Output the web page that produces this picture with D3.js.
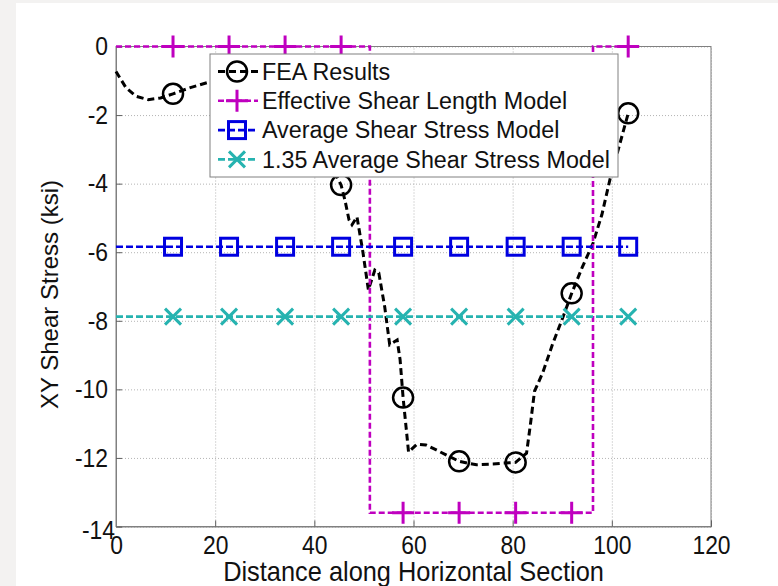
<!DOCTYPE html>
<html>
<head>
<meta charset="utf-8">
<script src="https://cdn.jsdelivr.net/npm/d3@7"></script>
<style>
  body { margin: 0; background: #fff; }
  svg { display: block; font-family: 'Liberation Sans', Arial, sans-serif; }
</style>
</head>
<body>
<svg id="chart" width="778" height="586"></svg>
<script>
// values
const xTicks = [0, 20, 40, 60, 80, 100, 120];
const yTicks = [0, -2, -4, -6, -8, -10, -12, -14];

const markerX = [11.5, 22.8, 34.1, 45.4, 57.9, 69.2, 80.6, 91.9, 103.3];

const feaX = [0, 2, 4, 6.5, 9, 11.5, 15, 18.5, 22.8, 28, 34.1, 39, 42.5, 45.4, 46.2, 47.0, 47.6, 48.6,
  49.8, 50.9, 52.2, 53.0, 54.2, 55.2, 56.7, 57.3, 57.9, 58.5, 59.0, 60.7, 62.5, 64.5, 66.7, 69.2,
  72.7, 76, 78.1, 80.6, 82.8, 83.6, 84.4, 86.1, 88, 90, 91.9, 94, 96.2, 98, 99.6, 101.5, 103.3];
const feaY = [-0.73, -1.2, -1.45, -1.55, -1.5, -1.38, -1.2, -1.05, -1.0, -1.2, -1.6, -2.4, -3.2, -4.04, -4.5, -5.06, -5.2, -4.97,
  -6.0, -7.1, -6.52, -6.6, -7.6, -8.7, -8.56, -9.14, -10.24, -11.1, -11.83, -11.6, -11.62, -11.76, -11.92, -12.1,
  -12.2, -12.18, -12.15, -12.13, -11.86, -11.0, -10.06, -9.5, -8.7, -7.95, -7.2, -6.45, -5.74, -4.9, -3.89, -2.9, -1.95];
const feaMarkY = [-1.38, -1.0, -1.6, -4.04, -10.24, -12.1, -12.13, -7.2, -1.95];

const eslX = [0, 11.5, 22.8, 34.1, 45.4, 51.2, 51.2, 57.9, 69.2, 80.6, 91.9, 96.2, 96.2, 103.3];
const eslY = [0, 0, 0, 0, 0, 0, -13.6, -13.6, -13.6, -13.6, -13.6, -13.6, 0, 0];
const eslMarkY = [0, 0, 0, 0, -13.6, -13.6, -13.6, -13.6, 0];

const avgStress = -5.84;
const avg135Stress = -7.88;

const seriesNames = ['FEA Results', 'Effective Shear Length Model', 'Average Shear Stress Model', '1.35 Average Shear Stress Model'];
const seriesColors = ['#000000', '#bf00bf', '#0000e0', '#26b3b0'];
const seriesShapes = ['circle', 'plus', 'square', 'cross'];

const svg = d3.select('#chart');
const margin = { top: 46.5, left: 116 };
const width = 595;
const height = 480;
const squeeze = 0.88; // MATLAB fonts look narrow in the screenshot

// grey page edge like the screenshot
svg.append('rect').attr('width', 778).attr('height', 586).attr('fill', '#fff');
svg.append('rect').attr('width', 16).attr('height', 586).attr('fill', '#f3f2f1');
svg.append('rect').attr('width', 778).attr('height', 3).attr('fill', '#f3f2f1');

const g = svg.append('g').attr('transform', `translate(${margin.left},${margin.top})`);

const x = d3.scaleLinear().domain([0, 120]).range([0, width]);
const y = d3.scaleLinear().domain([-14, 0]).range([height, 0]);

// dotted grid
g.append('g')
  .attr('transform', `translate(0,${height})`)
  .call(d3.axisBottom(x).tickValues(xTicks).tickSize(-height).tickFormat(''))
  .call((s) => s.select('.domain').remove())
  .selectAll('line')
  .attr('stroke', '#b4b4b4')
  .attr('stroke-dasharray', '1,2');
g.append('g')
  .call(d3.axisLeft(y).tickValues(yTicks).tickSize(-width).tickFormat(''))
  .call((s) => s.select('.domain').remove())
  .selectAll('line')
  .attr('stroke', '#b4b4b4')
  .attr('stroke-dasharray', '1,2');

// box
g.append('rect')
  .attr('width', width)
  .attr('height', height)
  .attr('fill', 'none')
  .attr('stroke', '#808080');

// axes with inward ticks
const xAxis = g.append('g')
  .attr('transform', `translate(0,${height})`)
  .call(d3.axisBottom(x).tickValues(xTicks).tickSize(-6).tickPadding(9).tickFormat((d) => String(d)));
const yAxis = g.append('g')
  .call(d3.axisLeft(y).tickValues(yTicks).tickSize(-6).tickPadding(8).tickFormat((d) => String(d)));
[xAxis, yAxis].forEach((a) => {
  a.select('.domain').attr('stroke', '#808080');
  a.selectAll('line').attr('stroke', '#606060');
  a.selectAll('text').attr('font-size', 26).attr('fill', '#111').attr('font-family', null)
    .attr('transform', `scale(${squeeze},1)`);
});
yAxis.selectAll('text').attr('x', -8 / squeeze);
yAxis.selectAll('.tick').filter((d) => d === -14).select('text')
  .attr('x', -1 / squeeze)
  .attr('dy', '0.45em');

// lines
const line = d3.line().x((d) => x(d[0])).y((d) => y(d[1]));

function drawMarker(sel, shape, color) {
  if (shape === 'circle') {
    sel.append('circle').attr('r', 10).attr('fill', 'none').attr('stroke', color).attr('stroke-width', 2.5);
  } else if (shape === 'plus') {
    sel.append('path').attr('d', 'M-11,0H11M0,-11V11').attr('stroke', color).attr('stroke-width', 3);
  } else if (shape === 'square') {
    sel.append('rect').attr('x', -8.5).attr('y', -8.5).attr('width', 17).attr('height', 17)
      .attr('fill', 'none').attr('stroke', color).attr('stroke-width', 3);
  } else {
    sel.append('path').attr('d', 'M-8,-8L8,8M-8,8L8,-8').attr('stroke', color).attr('stroke-width', 3);
  }
}

const series = [
  { line: d3.zip(feaX, feaY), marks: d3.zip(markerX, feaMarkY), dash: '7,4', w: 3 },
  { line: d3.zip(eslX, eslY), marks: d3.zip(markerX, eslMarkY), dash: '6,3', w: 2.6 },
  { line: [[0, avgStress], [103.3, avgStress]], marks: markerX.map((v) => [v, avgStress]), dash: '7,3', w: 2.6 },
  { line: [[0, avg135Stress], [103.3, avg135Stress]], marks: markerX.map((v) => [v, avg135Stress]), dash: '7,3', w: 2.6 }
];

series.forEach((s, i) => {
  g.append('path')
    .datum(s.line)
    .attr('fill', 'none')
    .attr('stroke', seriesColors[i])
    .attr('stroke-width', s.w)
    .attr('stroke-dasharray', s.dash)
    .attr('d', line);
  g.selectAll(null)
    .data(s.marks)
    .join('g')
    .attr('transform', (d) => `translate(${x(d[0])},${y(d[1])})`)
    .each(function () { drawMarker(d3.select(this), seriesShapes[i], seriesColors[i]); });
});

// legend
const legend = svg.append('g').attr('transform', 'translate(210,54)');
legend.append('rect')
  .attr('width', 408)
  .attr('height', 123)
  .attr('fill', '#fff')
  .attr('stroke', '#808080');
seriesNames.forEach((name, i) => {
  const row = legend.append('g').attr('transform', `translate(0,${17.5 + i * 29.3})`);
  row.append('line')
    .attr('x1', 8).attr('x2', 48)
    .attr('stroke', seriesColors[i])
    .attr('stroke-width', series[i].w)
    .attr('stroke-dasharray', series[i].dash);
  drawMarker(row.append('g').attr('transform', 'translate(27,0)'), seriesShapes[i], seriesColors[i]);
  row.append('text')
    .attr('x', 52)
    .attr('dy', '0.36em')
    .attr('font-size', 23.3)
    .attr('fill', '#111')
    .text(name);
});

// axis titles
svg.append('text')
  .attr('transform', `translate(${margin.left + width / 2},581) scale(0.94,1)`)
  .attr('text-anchor', 'middle')
  .attr('font-size', 27)
  .attr('fill', '#111')
  .text('Distance along Horizontal Section');

svg.append('text')
  .attr('transform', `translate(58,${margin.top + height / 2 + 8}) rotate(-90)`)
  .attr('text-anchor', 'middle')
  .attr('font-size', 24)
  .attr('fill', '#111')
  .text('XY Shear Stress (ksi)');
</script>
</body>
</html>
